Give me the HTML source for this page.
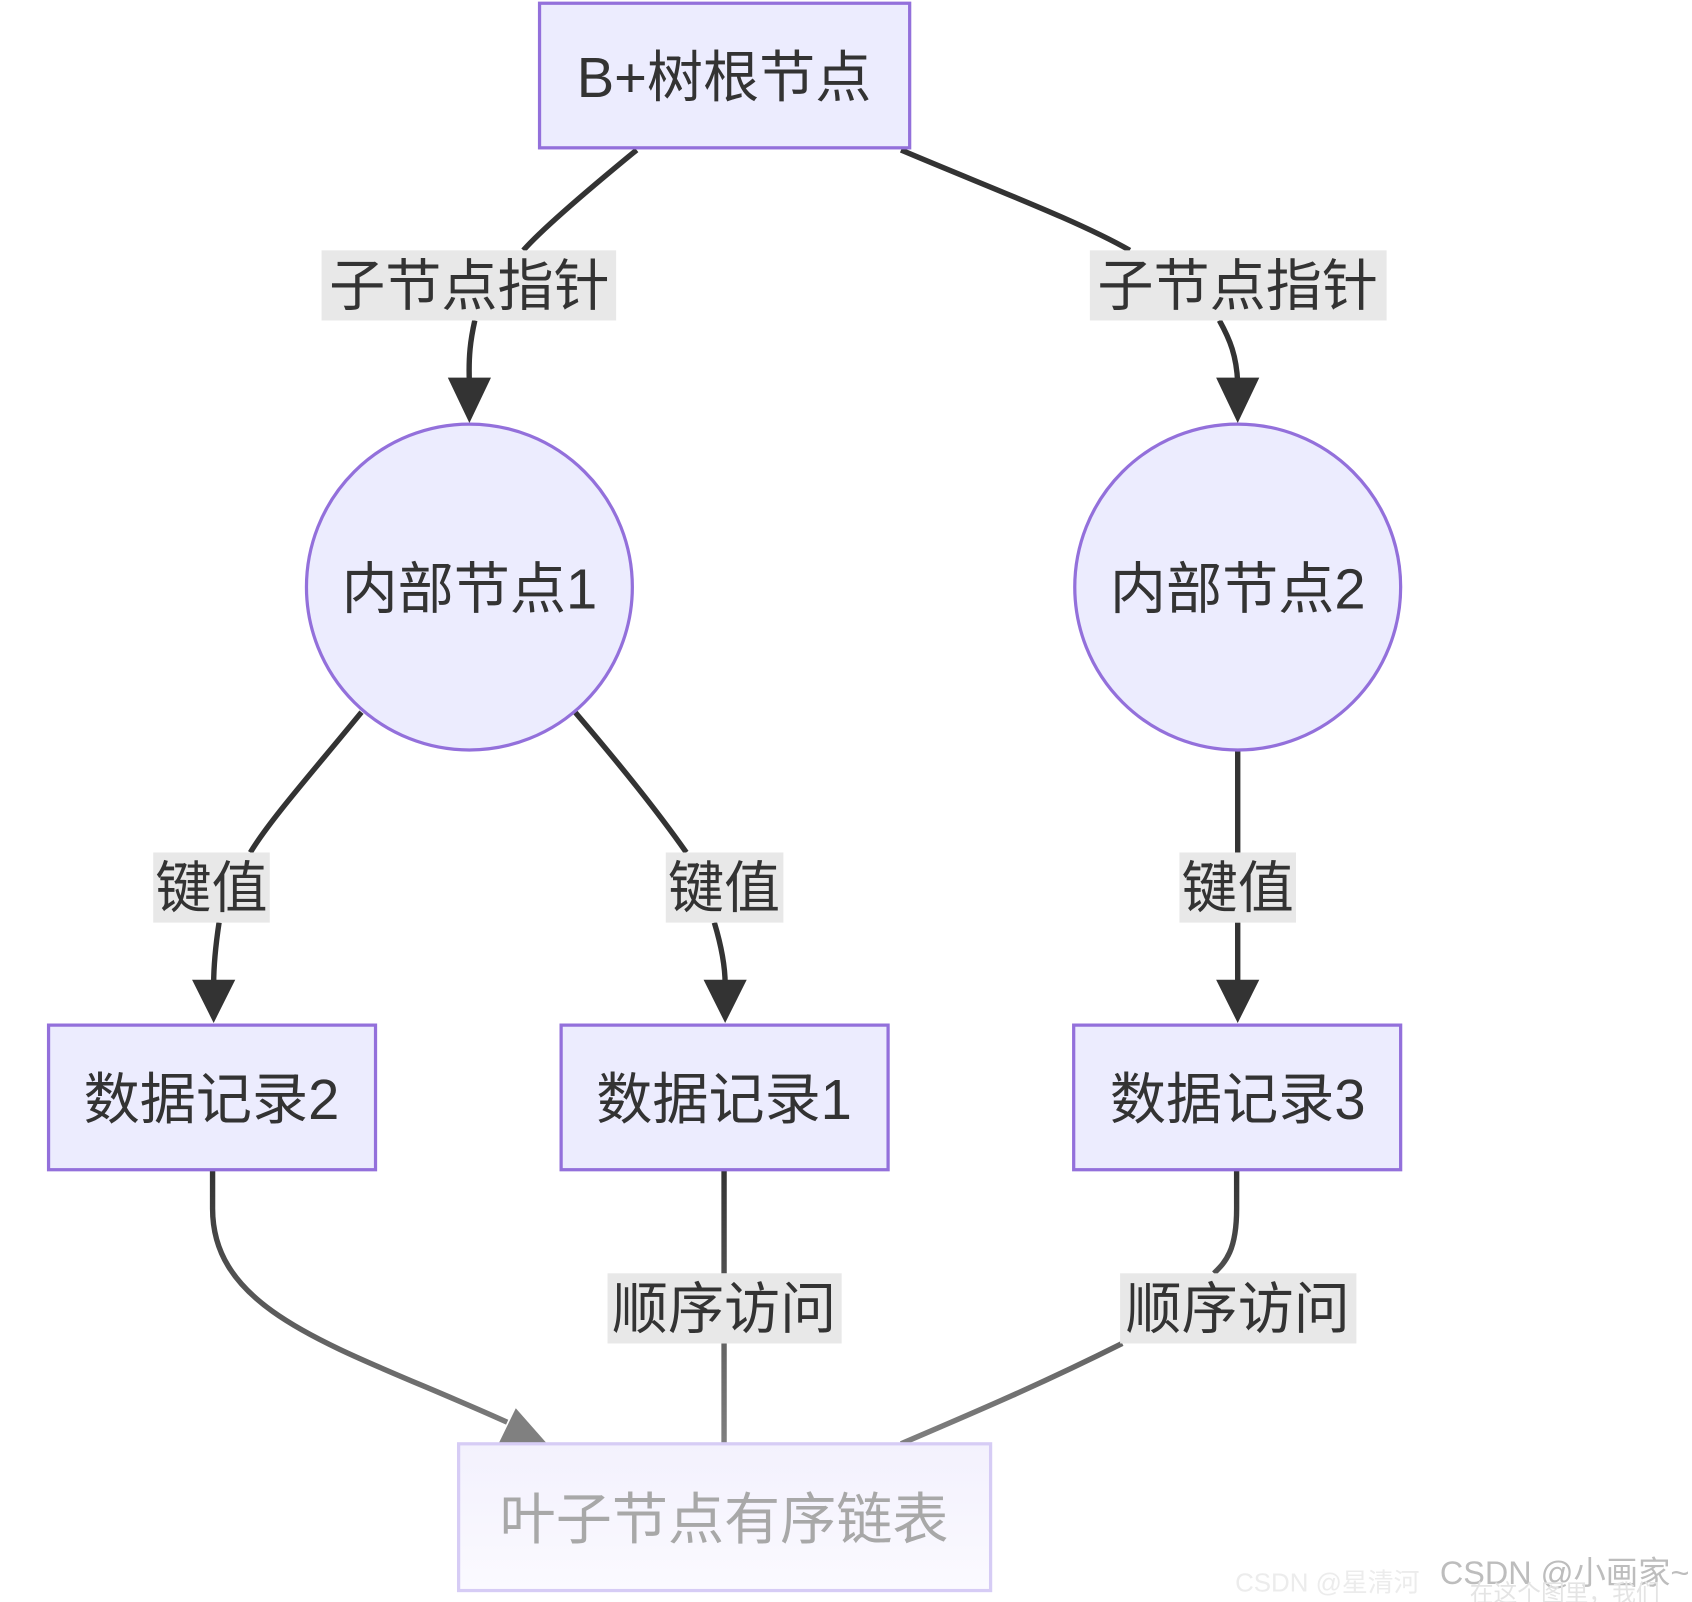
<!DOCTYPE html>
<html><head><meta charset="utf-8"><style>
html,body{margin:0;padding:0;background:#fff;width:1692px;height:1602px;overflow:hidden}
svg text{font-family:"Liberation Sans","Noto Sans CJK SC",sans-serif;}
</style></head><body>
<svg width="1692" height="1602" viewBox="0 0 1568 1484.6" preserveAspectRatio="none" xmlns="http://www.w3.org/2000/svg">
<defs>
<linearGradient id="fade" x1="0" y1="0" x2="0" y2="1"><stop offset="0" stop-color="#f3f1fd"/><stop offset="1" stop-color="#fbfaff"/></linearGradient>
<linearGradient id="lg" gradientUnits="userSpaceOnUse" x1="0" y1="1084" x2="0" y2="1340"><stop offset="0" stop-color="#333"/><stop offset="1" stop-color="#808080"/></linearGradient>
</defs>
<g fill="none" stroke="#333" stroke-width="5">
<path d="M590 139 C540 180 500 215 485 232"/>
<path d="M440 297 C436 315 434 330 435 355"/>
<path d="M835 139 C920 175 1000 205 1047 232"/>
<path d="M1130 297 C1140 315 1146 330 1147 355"/>
<path d="M335 660 C290 715 250 760 232 790"/>
<path d="M203 855 C200 875 198 895 198 912"/>
<path d="M533 660 C580 715 615 760 636 790"/>
<path d="M662 855 C668 875 672 895 672 912"/>
<path d="M1147 695 L1147 790"/>
<path d="M1147 855 L1147 912"/>
</g>
<g fill="none" stroke="url(#lg)" stroke-width="5">
<path d="M197 1084 L197 1120 C197 1220 320 1250 470 1318"/>
<path d="M671 1084 L671 1180"/>
<path d="M671 1245 L671 1338"/>
<path d="M1146 1084 L1146 1120 C1146 1160 1135 1170 1125 1180"/>
<path d="M1040 1245 C960 1285 900 1310 835 1338"/>
</g>
<g fill="#333">
<polygon points="415,350 455,350 435,392"/>
<polygon points="1127,350 1167,350 1147,392"/>
<polygon points="178,908 218,908 198,948"/>
<polygon points="652,908 692,908 672,948"/>
<polygon points="1127,908 1167,908 1147,948"/>
</g>
<polygon points="478,1305 462,1338 507,1338" fill="#808080"/>
<g fill="#ececfe" stroke="#9370db" stroke-width="3">
<rect x="500" y="3" width="343" height="134"/>
<circle cx="435" cy="544" r="151"/>
<circle cx="1147" cy="544" r="151"/>
<rect x="45" y="950" width="303" height="134"/>
<rect x="520" y="950" width="303" height="134"/>
<rect x="995" y="950" width="303" height="134"/>
</g>
<rect x="425" y="1338" width="493" height="136" fill="url(#fade)" stroke="#d6ccf5" stroke-width="3"/>
<g fill="#e8e8e8">
<rect x="298" y="232" width="273" height="65"/>
<rect x="1010" y="232" width="275" height="65"/>
<rect x="142" y="790" width="108" height="65"/>
<rect x="617" y="790" width="109" height="65"/>
<rect x="1093" y="790" width="108" height="65"/>
<rect x="563" y="1180" width="217" height="65"/>
<rect x="1038" y="1180" width="219" height="65"/>
</g>
<g fill="#333" font-size="52" text-anchor="middle" dominant-baseline="central">
<text x="671" y="72">B+树根节点</text>
<text x="435" y="265">子节点指针</text>
<text x="1147" y="265">子节点指针</text>
<text x="435" y="546">内部节点1</text>
<text x="1147" y="546">内部节点2</text>
<text x="196" y="823">键值</text>
<text x="671" y="823">键值</text>
<text x="1147" y="823">键值</text>
<text x="196" y="1019">数据记录2</text>
<text x="671" y="1019">数据记录1</text>
<text x="1147" y="1019">数据记录3</text>
<text x="671" y="1213">顺序访问</text>
<text x="1147" y="1213">顺序访问</text>
<text x="671" y="1408" fill="#a8a8a8">叶子节点有序链表</text>
</g>
<text x="1230" y="1475" font-size="24" fill="#ececec" text-anchor="middle">CSDN @星清河</text>
<text x="1450" y="1468" font-size="30" fill="#bdbdbd" text-anchor="middle">CSDN @小画家~</text>
<text x="1450" y="1484" font-size="22" fill="#e4e4e4" text-anchor="middle">在这个图里，我们</text>
</svg>
</body></html>
